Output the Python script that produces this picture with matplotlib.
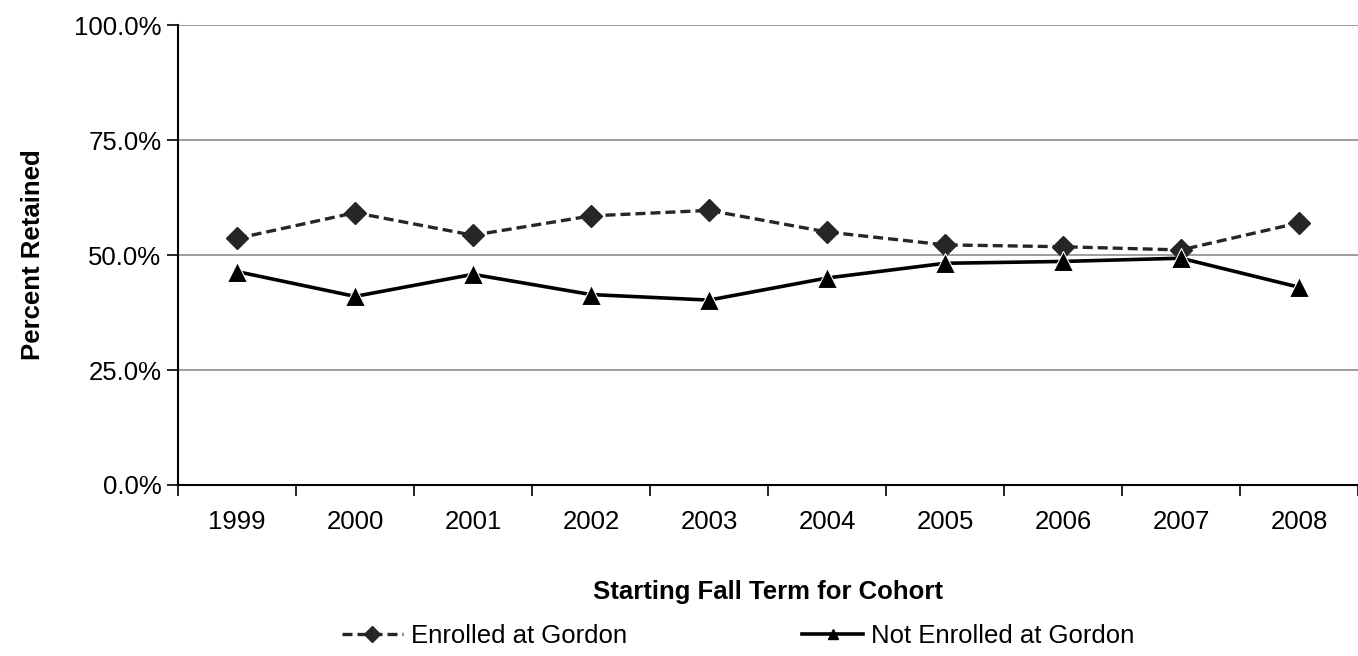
import matplotlib
matplotlib.use("Agg")
import matplotlib.pyplot as plt
from matplotlib.lines import Line2D
from matplotlib.ticker import FixedLocator, PercentFormatter

# Cohort years and retention rates (percent)
years = ["1999", "2000", "2001", "2002", "2003", "2004", "2005", "2006", "2007", "2008"]
enrolled = [53.6, 59.2, 54.3, 58.5, 59.7, 55.0, 52.2, 51.8, 51.1, 57.0]
not_enrolled = [46.4, 41.0, 45.8, 41.4, 40.2, 45.0, 48.2, 48.6, 49.3, 43.0]
y_ticks = [0, 25, 50, 75, 100]

plt.rcParams["font.family"] = ["Liberation Sans", "DejaVu Sans"]
FS = 18.5

fig = plt.figure(figsize=(13.58, 6.56), dpi=100)
ax = fig.add_axes([178 / 1358, 1 - 485 / 656, 1180 / 1358, 460 / 656])

x = list(range(len(years)))
ax.plot(x, enrolled, color="#262626", linestyle=(0, (3, 1.5)), linewidth=2.4,
        marker="D", markersize=11.5, markerfacecolor="#262626", markeredgecolor="#262626",
        zorder=3)
ax.plot(x, not_enrolled, color="black", linestyle="-", linewidth=2.6,
        marker="^", markersize=15, markerfacecolor="black", markeredgecolor="white",
        markeredgewidth=0.8, zorder=4)

ax.set_xlim(-0.5, len(years) - 0.5)
ax.set_ylim(0, 100)

# y axis
ax.yaxis.set_major_locator(FixedLocator(y_ticks))
ax.yaxis.set_major_formatter(PercentFormatter(decimals=1))
ax.grid(axis="y", color="#8c8c8c", linewidth=1.2)
ax.set_axisbelow(True)

# x axis: labels centred, ticks between categories
ax.set_xticks(x)
ax.set_xticklabels(years)
ax.set_xticks([i + 0.5 for i in range(-1, len(years))], minor=True)
ax.tick_params(axis="x", which="major", length=0, pad=18, labelsize=FS)
ax.tick_params(axis="x", which="minor", length=8, width=1.2, direction="out")
ax.tick_params(axis="y", length=8, width=1.2, direction="out", labelsize=FS, pad=4)

for side in ("top", "right"):
    ax.spines[side].set_visible(False)
for side in ("left", "bottom"):
    ax.spines[side].set_linewidth(1.5)
    ax.spines[side].set_color("black")

ax.set_ylabel("Percent Retained", fontsize=FS, fontweight="bold", labelpad=21)
ax.set_xlabel("Starting Fall Term for Cohort", fontsize=FS, fontweight="bold", labelpad=33)

handles = [
    Line2D([], [], color="#262626", linestyle=(0, (3, 1.5)), linewidth=2.4,
           marker="D", markersize=8, markerfacecolor="#262626"),
    Line2D([], [], color="black", linestyle="-", linewidth=2.6,
           marker="^", markersize=7, markerfacecolor="black"),
]
fig.legend(handles, ["Enrolled at Gordon", "Not Enrolled at Gordon"],
           loc="center", bbox_to_anchor=(738 / 1358, 1 - 636 / 656), ncol=2,
           frameon=False, fontsize=FS, handlelength=2.4, handletextpad=0.3,
           columnspacing=6.8)

fig.savefig("out.png", dpi=100)
